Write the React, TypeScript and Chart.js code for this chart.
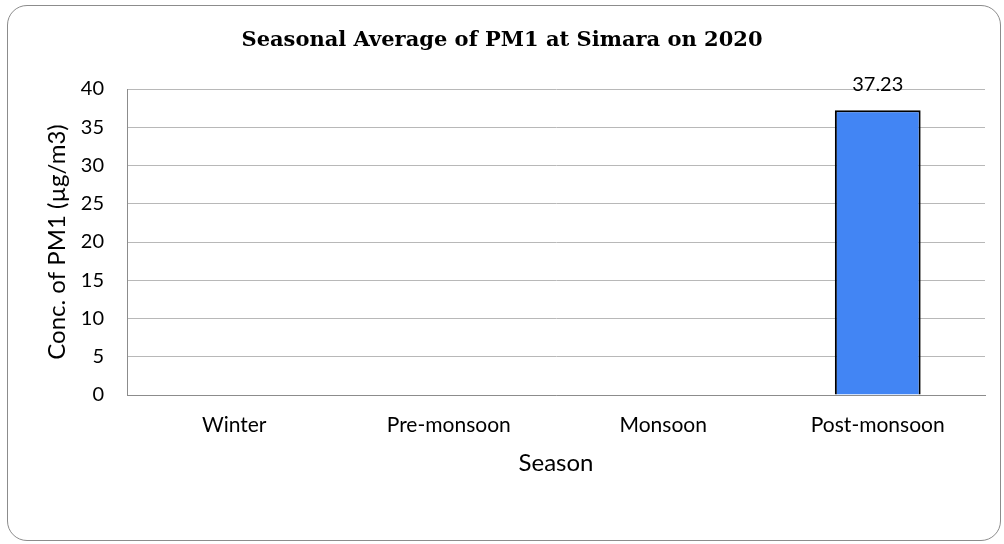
import React, { useEffect, useRef } from "react";
import { Chart, registerables } from "chart.js";

Chart.register(...registerables);

const categories = ["Winter", "Pre-monsoon", "Monsoon", "Post-monsoon"];
const pm1Values: (number | null)[] = [null, null, null, 37.23];
const yTicks = [0, 5, 10, 15, 20, 25, 30, 35, 40];
const chartTitle = "Seasonal Average of PM1 at Simara on 2020";
const yTitle = "Conc. of PM1 (µg/m3)";
const xTitle = "Season";

const FONT = "Lato, 'Open Sans', sans-serif";

const dataLabelPlugin = {
  id: "dataLabels",
  afterDatasetsDraw(chart: any) {
    const ctx = chart.ctx;
    const meta = chart.getDatasetMeta(0);
    ctx.save();
    ctx.fillStyle = "#000000";
    ctx.font = `20px ${FONT}`;
    ctx.textAlign = "center";
    ctx.textBaseline = "middle";
    meta.data.forEach((bar: any, i: number) => {
      const v = pm1Values[i];
      if (v == null) return;
      ctx.fillText(v.toFixed(2), bar.x, bar.y - 26);
    });
    ctx.restore();
  },
};

const centeredTitlePlugin = {
  id: "centeredTitle",
  afterDraw(chart: any) {
    const ctx = chart.ctx;
    ctx.save();
    ctx.fillStyle = "#000000";
    ctx.font = "bold 21px 'DejaVu Serif', serif";
    ctx.textAlign = "center";
    ctx.textBaseline = "middle";
    ctx.fillText(chartTitle, chart.width / 2, 41);
    ctx.restore();
  },
};

export default function App() {
  const canvasRef = useRef<HTMLCanvasElement | null>(null);

  useEffect(() => {
    if (!canvasRef.current) return;
    const chart = new Chart(canvasRef.current, {
      type: "bar",
      data: {
        labels: categories,
        datasets: [
          {
            label: "PM1",
            data: pm1Values,
            backgroundColor: "#4285F4",
            borderColor: "#000000",
            borderWidth: 2,
            categoryPercentage: 1,
            barPercentage: 0.4,
          },
        ],
      },
      options: {
        animation: false,
        responsive: false,
        maintainAspectRatio: false,
        layout: { padding: { left: 0, right: 19, top: 89, bottom: 0 } },
        plugins: {
          legend: { display: false },
          tooltip: { enabled: false },
          title: { display: false },
        },
        scales: {
          x: {
            grid: { display: false, drawTicks: false },
            border: { display: true, color: "#8c8c8c", width: 1 },
            ticks: { color: "#000000", font: { family: FONT, size: 21 }, padding: 18 },
            title: {
              display: true,
              text: xTitle,
              color: "#000000",
              font: { family: FONT, size: 24, lineHeight: 1.2 },
              padding: { top: 0, bottom: 66 },
            },
            afterFit(scale: any) {
              scale.height = 149;
            },
          },
          y: {
            min: 0,
            max: 40,
            afterBuildTicks(scale: any) {
              scale.ticks = yTicks.map((v) => ({ value: v }));
            },
            grid: { color: "#b8b8b8", lineWidth: 1, drawTicks: false },
            border: { display: true, color: "#8c8c8c", width: 1 },
            ticks: { color: "#000000", font: { family: FONT, size: 20 }, padding: 23 },
            title: {
              display: true,
              text: yTitle,
              color: "#000000",
              font: { family: FONT, size: 24, lineHeight: 1.2 },
              padding: { top: 43, bottom: 0 },
            },
            afterFit(scale: any) {
              scale.width = 127;
            },
          },
        },
      },
      plugins: [dataLabelPlugin, centeredTitlePlugin],
    });
    return () => chart.destroy();
  }, []);

  return (
    <div style={{ position: "absolute", left: 0, top: 0, width: 1004, height: 544, background: "#ffffff" }}>
      <div
        style={{
          position: "absolute",
          left: 7,
          top: 5,
          width: 994,
          height: 536,
          border: "1px solid #8c8c8c",
          borderRadius: 20,
          boxSizing: "border-box",
        }}
      />
      <canvas
        ref={canvasRef}
        width={1004}
        height={544}
        style={{ position: "absolute", left: 0, top: 0, width: 1004, height: 544 }}
      />
    </div>
  );
}
